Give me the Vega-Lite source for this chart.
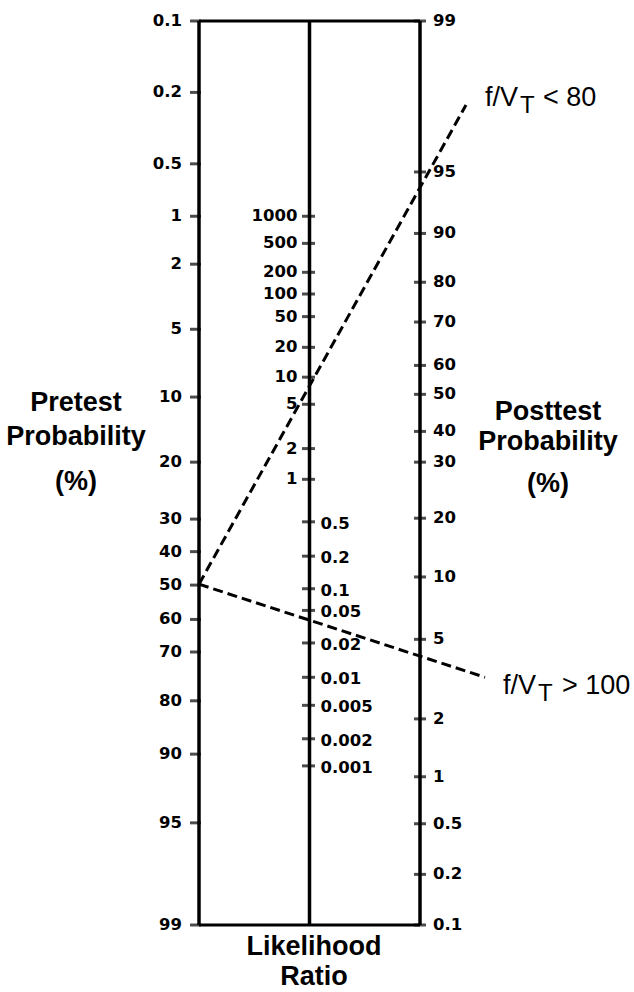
{
  "$schema": "https://vega.github.io/schema/vega-lite/v6.json",
  "description": "Fagan nomogram: pretest probability, likelihood ratio and posttest probability scales, with two f/VT cases drawn across them.",
  "width": 221,
  "height": 904,
  "autosize": {"type": "none"},
  "padding": {"left": 199, "top": 21, "right": 214, "bottom": 67},
  "background": "white",
  "config": {
    "view": {"stroke": null},
    "text": {"font": "Liberation Sans", "color": "black"}
  },
  "datasets": {
    "pretest": [
      {"p": 0.1, "pos": 0}, {"p": 0.2, "pos": 7.9}, {"p": 0.5, "pos": 15.8},
      {"p": 1, "pos": 21.6}, {"p": 2, "pos": 26.9}, {"p": 5, "pos": 34.1},
      {"p": 10, "pos": 41.6}, {"p": 20, "pos": 48.8}, {"p": 30, "pos": 55.1},
      {"p": 40, "pos": 58.7}, {"p": 50, "pos": 62.4}, {"p": 60, "pos": 66.2},
      {"p": 70, "pos": 69.8}, {"p": 80, "pos": 75.2}, {"p": 90, "pos": 81.1},
      {"p": 95, "pos": 88.7}, {"p": 99, "pos": 100}
    ],
    "lr": [
      {"lr": 1000, "pos": 21.6}, {"lr": 500, "pos": 24.6}, {"lr": 200, "pos": 27.8},
      {"lr": 100, "pos": 30.2}, {"lr": 50, "pos": 32.7}, {"lr": 20, "pos": 36.1},
      {"lr": 10, "pos": 39.4}, {"lr": 5, "pos": 42.4}, {"lr": 2, "pos": 47.3},
      {"lr": 1, "pos": 50.7}, {"lr": 0.5, "pos": 55.4}, {"lr": 0.2, "pos": 59.2},
      {"lr": 0.1, "pos": 62.8}, {"lr": 0.05, "pos": 65.2}, {"lr": 0.02, "pos": 68.8},
      {"lr": 0.01, "pos": 72.6}, {"lr": 0.005, "pos": 75.7}, {"lr": 0.002, "pos": 79.4},
      {"lr": 0.001, "pos": 82.4}
    ],
    "posttest": [
      {"p": 99, "pos": 0}, {"p": 95, "pos": 16.7}, {"p": 90, "pos": 23.5},
      {"p": 80, "pos": 28.9}, {"p": 70, "pos": 33.3}, {"p": 60, "pos": 38.1},
      {"p": 50, "pos": 41.3}, {"p": 40, "pos": 45.4}, {"p": 30, "pos": 48.8},
      {"p": 20, "pos": 55.0}, {"p": 10, "pos": 61.5}, {"p": 5, "pos": 68.4},
      {"p": 2, "pos": 77.2}, {"p": 1, "pos": 83.6}, {"p": 0.5, "pos": 88.8},
      {"p": 0.2, "pos": 94.4}, {"p": 0.1, "pos": 100}
    ],
    "scales": [
      {"scale": "Pretest probability", "col": 0},
      {"scale": "Likelihood ratio", "col": 1},
      {"scale": "Posttest probability", "col": 2}
    ],
    "edges": [
      {"edge": "top", "pos": 0},
      {"edge": "bottom", "pos": 100}
    ],
    "cases": [
      {"case": "f/VT < 80", "col": 0, "pos": 62.3},
      {"case": "f/VT < 80", "col": 2.416, "pos": 9.3},
      {"case": "f/VT > 100", "col": 0, "pos": 62.3},
      {"case": "f/VT > 100", "col": 2.588, "pos": 72.6}
    ]
  },
  "layer": [
    {
      "data": {"name": "scales"},
      "mark": {"type": "rule", "strokeWidth": 3.5, "color": "black"},
      "encoding": {
        "x": {"field": "col", "type": "quantitative", "axis": null, "scale": {"domain": [0, 2], "nice": false, "zero": false}},
        "y": {"datum": 0, "type": "quantitative", "axis": null, "scale": {"domain": [0, 100], "reverse": true, "nice": false, "zero": false}},
        "y2": {"datum": 100}
      }
    },
    {
      "data": {"name": "edges"},
      "mark": {"type": "rule", "strokeWidth": 3, "color": "black"},
      "encoding": {
        "x": {"datum": 0, "type": "quantitative"},
        "x2": {"datum": 2},
        "y": {"field": "pos", "type": "quantitative"}
      }
    },
    {
      "data": {"name": "pretest"},
      "mark": {"type": "tick", "orient": "horizontal", "thickness": 3, "xOffset": -3.5, "color": "black"},
      "encoding": {
        "x": {"datum": 0, "type": "quantitative"},
        "y": {"field": "pos", "type": "quantitative"},
        "size": {"value": 11}
      }
    },
    {
      "data": {"name": "pretest"},
      "mark": {"type": "text", "align": "right", "baseline": "middle", "dx": -17, "fontSize": 16.5, "fontWeight": "bold", "font": "DejaVu Sans"},
      "encoding": {
        "x": {"datum": 0, "type": "quantitative"},
        "y": {"field": "pos", "type": "quantitative"},
        "text": {"field": "p", "type": "nominal"}
      }
    },
    {
      "data": {"name": "lr"},
      "mark": {"type": "tick", "orient": "horizontal", "thickness": 3, "xOffset": -1, "color": "black"},
      "encoding": {
        "x": {"datum": 1, "type": "quantitative"},
        "y": {"field": "pos", "type": "quantitative"},
        "size": {"value": 13}
      }
    },
    {
      "data": {"name": "lr"},
      "transform": [{"filter": "datum.lr >= 1"}],
      "mark": {"type": "text", "align": "right", "baseline": "middle", "dx": -12, "fontSize": 16.5, "fontWeight": "bold", "font": "DejaVu Sans"},
      "encoding": {
        "x": {"datum": 1, "type": "quantitative"},
        "y": {"field": "pos", "type": "quantitative"},
        "text": {"field": "lr", "type": "nominal"}
      }
    },
    {
      "data": {"name": "lr"},
      "transform": [{"filter": "datum.lr < 1"}],
      "mark": {"type": "text", "align": "left", "baseline": "middle", "dx": 11, "dy": 2, "fontSize": 16.5, "fontWeight": "bold", "font": "DejaVu Sans"},
      "encoding": {
        "x": {"datum": 1, "type": "quantitative"},
        "y": {"field": "pos", "type": "quantitative"},
        "text": {"field": "lr", "type": "nominal"}
      }
    },
    {
      "data": {"name": "posttest"},
      "mark": {"type": "tick", "orient": "horizontal", "thickness": 3, "color": "black"},
      "encoding": {
        "x": {"datum": 2, "type": "quantitative"},
        "y": {"field": "pos", "type": "quantitative"},
        "size": {"value": 12}
      }
    },
    {
      "data": {"name": "posttest"},
      "mark": {"type": "text", "align": "left", "baseline": "middle", "dx": 13, "fontSize": 16.5, "fontWeight": "bold", "font": "DejaVu Sans"},
      "encoding": {
        "x": {"datum": 2, "type": "quantitative"},
        "y": {"field": "pos", "type": "quantitative"},
        "text": {"field": "p", "type": "nominal"}
      }
    },
    {
      "data": {"name": "cases"},
      "mark": {"type": "line", "strokeWidth": 3, "strokeDash": [10, 5], "color": "black", "strokeCap": "butt"},
      "encoding": {
        "x": {"field": "col", "type": "quantitative"},
        "y": {"field": "pos", "type": "quantitative"},
        "detail": {"field": "case", "type": "nominal"},
        "order": {"field": "col", "type": "quantitative"}
      }
    },
    {
      "data": {"values": [{"line": "Pretest"}]},
      "mark": {"type": "text", "align": "center", "baseline": "middle", "fontSize": 27, "fontWeight": "bold"},
      "encoding": {"x": {"datum": -1.113, "type": "quantitative"}, "y": {"datum": 42.3, "type": "quantitative"}, "text": {"field": "line"}}
    },
    {
      "data": {"values": [{"line": "Probability"}]},
      "mark": {"type": "text", "align": "center", "baseline": "middle", "fontSize": 27, "fontWeight": "bold"},
      "encoding": {"x": {"datum": -1.113, "type": "quantitative"}, "y": {"datum": 46.0, "type": "quantitative"}, "text": {"field": "line"}}
    },
    {
      "data": {"values": [{"line": "(%)"}]},
      "mark": {"type": "text", "align": "center", "baseline": "middle", "fontSize": 27, "fontWeight": "bold"},
      "encoding": {"x": {"datum": -1.113, "type": "quantitative"}, "y": {"datum": 51.0, "type": "quantitative"}, "text": {"field": "line"}}
    },
    {
      "data": {"values": [{"line": "Posttest"}]},
      "mark": {"type": "text", "align": "center", "baseline": "middle", "fontSize": 27, "fontWeight": "bold"},
      "encoding": {"x": {"datum": 3.158, "type": "quantitative"}, "y": {"datum": 43.3, "type": "quantitative"}, "text": {"field": "line"}}
    },
    {
      "data": {"values": [{"line": "Probability"}]},
      "mark": {"type": "text", "align": "center", "baseline": "middle", "fontSize": 27, "fontWeight": "bold"},
      "encoding": {"x": {"datum": 3.158, "type": "quantitative"}, "y": {"datum": 46.6, "type": "quantitative"}, "text": {"field": "line"}}
    },
    {
      "data": {"values": [{"line": "(%)"}]},
      "mark": {"type": "text", "align": "center", "baseline": "middle", "fontSize": 27, "fontWeight": "bold"},
      "encoding": {"x": {"datum": 3.158, "type": "quantitative"}, "y": {"datum": 51.2, "type": "quantitative"}, "text": {"field": "line"}}
    },
    {
      "data": {"values": [{"line": "Likelihood"}]},
      "mark": {"type": "text", "align": "center", "baseline": "middle", "fontSize": 27, "fontWeight": "bold"},
      "encoding": {"x": {"datum": 1.04, "type": "quantitative"}, "y": {"datum": 102.4, "type": "quantitative"}, "text": {"field": "line"}}
    },
    {
      "data": {"values": [{"line": "Ratio"}]},
      "mark": {"type": "text", "align": "center", "baseline": "middle", "fontSize": 27, "fontWeight": "bold"},
      "encoding": {"x": {"datum": 1.04, "type": "quantitative"}, "y": {"datum": 105.7, "type": "quantitative"}, "text": {"field": "line"}}
    },
    {
      "data": {"values": [{"part": "f/V"}]},
      "mark": {"type": "text", "align": "left", "baseline": "middle", "fontSize": 27},
      "encoding": {"x": {"datum": 2.588, "type": "quantitative"}, "y": {"datum": 8.5, "type": "quantitative"}, "text": {"field": "part"}}
    },
    {
      "data": {"values": [{"part": "T"}]},
      "mark": {"type": "text", "align": "left", "baseline": "middle", "fontSize": 24, "dx": 35, "dy": 8},
      "encoding": {"x": {"datum": 2.588, "type": "quantitative"}, "y": {"datum": 8.5, "type": "quantitative"}, "text": {"field": "part"}}
    },
    {
      "data": {"values": [{"part": "< 80"}]},
      "mark": {"type": "text", "align": "left", "baseline": "middle", "fontSize": 27, "dx": 58},
      "encoding": {"x": {"datum": 2.588, "type": "quantitative"}, "y": {"datum": 8.5, "type": "quantitative"}, "text": {"field": "part"}}
    },
    {
      "data": {"values": [{"part": "f/V"}]},
      "mark": {"type": "text", "align": "left", "baseline": "middle", "fontSize": 27},
      "encoding": {"x": {"datum": 2.751, "type": "quantitative"}, "y": {"datum": 73.6, "type": "quantitative"}, "text": {"field": "part"}}
    },
    {
      "data": {"values": [{"part": "T"}]},
      "mark": {"type": "text", "align": "left", "baseline": "middle", "fontSize": 24, "dx": 35, "dy": 8},
      "encoding": {"x": {"datum": 2.751, "type": "quantitative"}, "y": {"datum": 73.6, "type": "quantitative"}, "text": {"field": "part"}}
    },
    {
      "data": {"values": [{"part": "> 100"}]},
      "mark": {"type": "text", "align": "left", "baseline": "middle", "fontSize": 27, "dx": 59},
      "encoding": {"x": {"datum": 2.751, "type": "quantitative"}, "y": {"datum": 73.6, "type": "quantitative"}, "text": {"field": "part"}}
    }
  ]
}
